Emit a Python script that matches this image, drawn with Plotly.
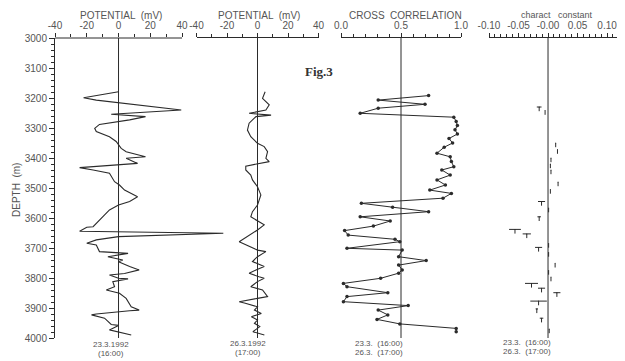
import plotly.graph_objects as go

# ---------------- data ----------------
pot1_depth = [3179, 3199, 3207, 3229, 3240, 3254, 3262, 3273, 3288, 3301, 3312, 3329, 3345, 3368,
              3379, 3396, 3401, 3418, 3432, 3440, 3451, 3479, 3490, 3507, 3529, 3545, 3557, 3573,
              3607, 3629, 3631, 3644, 3651, 3662, 3673, 3684, 3690, 3712, 3718, 3729, 3740, 3746,
              3762, 3773, 3785, 3790, 3801, 3803, 3812, 3829, 3840, 3851, 3868, 3896, 3907, 3909,
              3920, 3923, 3934, 3955, 3958, 3973, 3990]
pot1_mv = [0, -22, -14, 19.5, 39.5, -4.6, 17, 7, -12, -15, -14, -5.7, -1.5, 1.7,
           4.8, 17, 4.8, 12, -24.5, -16, -5.7, -2.5, 0.6, 3.8, 12, 7, 0, -5.7,
           -12, -16, -20, -24.5, 66, 0, -14, -20, -14, -12, 6, -6.7, 2.7, 0,
           7, 13, 3.8, -5.7, 0, 6, -3.6, -2.5, -7.7, 0.6, 4.8, 8, 13, 7,
           -14, -17, -8.8, -4.6, 0, -5.7, 8]

pot2_depth = [3179, 3201, 3223, 3240, 3251, 3257, 3262, 3284, 3307, 3329, 3351, 3362, 3379, 3401,
              3412, 3427, 3440, 3457, 3473, 3496, 3523, 3557, 3579, 3596, 3623, 3640, 3679, 3707,
              3712, 3729, 3745, 3762, 3773, 3784, 3796, 3801, 3812, 3829, 3840, 3862, 3868, 3879,
              3884, 3896, 3907, 3918, 3929, 3940, 3951, 3962, 3979, 3990]
pot2_mv = [5, 3.3, 7.7, 5.5, -5.5, 8.9, -1, -5.5, -6.6, -4.4, 0, 4.4, 6.6, 5.5,
           7.7, -7.7, -7.7, -4.4, -3.3, 0, 2.2, 0, -3.3, -4.4, 4.4, 0, -12, 0,
           5.5, 0, -3.3, 4.4, -1, -5.5, 1, 4.4, 0, -4.4, 3.3, 6.6, 0, -12,
           -8, 0, -2, 2.5, -4, 0, -2, 1.5, -3, 4.5]

cc_depth = [3192, 3207, 3221, 3234, 3251, 3264, 3278, 3292, 3306, 3320, 3335, 3350, 3364, 3384,
            3396, 3412, 3429, 3440, 3457, 3473, 3490, 3507, 3518, 3534, 3551, 3564, 3579, 3596,
            3610, 3627, 3642, 3657, 3671, 3679, 3701, 3707, 3729, 3742, 3757, 3773, 3784, 3801,
            3818, 3829, 3849, 3862, 3879, 3892, 3907, 3923, 3938, 3953, 3968, 3979]
cc_value = [0.73, 0.31, 0.70, 0.31, 0.16, 0.94, 0.96, 0.97, 0.95, 0.97, 0.90, 0.93, 0.86, 0.80,
            0.91, 0.92, 0.94, 0.84, 0.91, 0.80, 0.87, 0.74, 0.92, 0.85, 0.17, 0.43, 0.73, 0.16,
            0.41, 0.27, 0.03, 0.06, 0.45, 0.49, 0.05, 0.51, 0.48, 0.71, 0.48, 0.51, 0.48, 0.33,
            0.02, 0.05, 0.39, 0.05, 0.02, 0.56, 0.31, 0.39, 0.30, 0.49, 0.96, 0.96]

char_depth = [3230, 3242, 3350, 3372, 3400, 3420, 3440, 3480, 3505, 3545, 3567, 3596, 3638, 3653,
              3685, 3698, 3715, 3751, 3775, 3797, 3818, 3834, 3849, 3877, 3903, 3934, 3970]
char_value = [-0.015, -0.005, 0.013, 0.016, 0.005, 0.004, 0.005, 0.017, 0.004, -0.011, 0.001, -0.015,
              -0.056, -0.036, 0.001, -0.016, 0.001, 0.012, 0.001, 0.005, -0.028, -0.011, 0.015,
              -0.016, -0.019, -0.011, 0.002]
char_spread = [0.004, 0, 0, 0, 0, 0, 0, 0, 0, 0.006, 0, 0.003,
               0.010, 0.007, 0, 0.006, 0, 0, 0, 0, 0.011, 0.006, 0.006,
               0.014, 0.002, 0.003, 0]

ref_lines = [0, 0, 0.5, 0]
depth_range = [3000, 4000]

# ---------------- style ----------------
LC = "#2b2b2b"
TC = "#555555"
FONT = "Liberation Sans"
OFF = 8                      # page body margin of the html page
W, H = 625 - OFF, 361 - OFF
TOP, BOT = 38, 338           # page pixel rows of depth 3000 / 4000
STEM = 14                    # length (m) of the hanging stem of each T mark

fig = go.Figure()
fig.add_trace(go.Scatter(x=pot1_mv, y=pot1_depth, xaxis="x", yaxis="y", mode="lines",
                         line=dict(color=LC, width=1.1)))
fig.add_trace(go.Scatter(x=pot2_mv, y=pot2_depth, xaxis="x2", yaxis="y", mode="lines",
                         line=dict(color=LC, width=1.1)))
fig.add_trace(go.Scatter(x=cc_value, y=cc_depth, xaxis="x3", yaxis="y", mode="lines+markers",
                         line=dict(color=LC, width=1.0),
                         marker=dict(color=LC, size=3.5)))
fig.add_trace(go.Scatter(x=char_value, y=char_depth, xaxis="x4", yaxis="y", mode="markers",
                         marker=dict(size=1, color=LC),
                         error_x=dict(type="data", array=char_spread, symmetric=True,
                                      thickness=1, width=0, color=LC),
                         error_y=dict(type="data", symmetric=False,
                                      array=[STEM] * len(char_depth),
                                      arrayminus=[0] * len(char_depth),
                                      thickness=1, width=0, color=LC)))

def px(p):
    return (p - OFF) / W

def ypx(p):
    return (BOT - p) / (BOT - TOP)

common_x = dict(anchor="y", side="top", showgrid=False, zeroline=False, ticks="outside",
                ticklen=4, tickwidth=1, tickcolor=LC, linecolor=LC, linewidth=1,
                automargin=False,
                tickfont=dict(family=FONT, size=10, color=TC))

fig.update_layout(
    width=W, height=H,
    margin=dict(l=0, r=0, t=TOP - OFF, b=361 - BOT, pad=0),
    paper_bgcolor="white", plot_bgcolor="rgba(0,0,0,0)",
    showlegend=False,
    yaxis=dict(range=[depth_range[1], depth_range[0]], domain=[0, 1], anchor="x",
               tickmode="linear", tick0=3000, dtick=100, ticks="outside", ticklen=5,
               tickcolor=LC, showline=True, linecolor=LC, linewidth=1,
               showgrid=False, zeroline=False, automargin=False,
               tickfont=dict(family=FONT, size=10, color=TC),
               minor=dict(dtick=20, ticklen=3, ticks="outside", tickcolor=LC)),
    xaxis=dict(domain=[px(55), px(226.5)], range=[-40, 68], showline=False,
               tickvals=[-40, -20, 0, 20, 40], ticktext=["-40", "-20", "0", "20", "40"],
               minor=dict(tickvals=[-30, -10, 10, 30], ticklen=3, ticks="outside", tickcolor=LC),
               **common_x),
    xaxis2=dict(domain=[px(196.5), px(318.5)], range=[-40, 40], showline=True,
                tickvals=[-40, -20, 0, 20, 40], ticktext=["-40", "-20", "0", "20", "40"],
                minor=dict(tickvals=[-30, -10, 10, 30], ticklen=3, ticks="outside", tickcolor=LC),
                **common_x),
    xaxis3=dict(domain=[px(341), px(461)], range=[0, 1], showline=True,
                tickvals=[0, 0.5, 1.0], ticktext=["0.0", "0.5", "1.0"],
                minor=dict(dtick=0.1, ticklen=3, ticks="outside", tickcolor=LC),
                **common_x),
    xaxis4=dict(domain=[px(489), px(623)], range=[-0.10, 0.127], showline=True,
                tickvals=[-0.10, -0.05, 0.0, 0.05, 0.10],
                ticktext=["-0.10", "-0.05", "-0.00", "0.05", "0.10"],
                minor=dict(dtick=0.01, tick0=0, ticklen=3, ticks="outside", tickcolor=LC),
                **common_x),
)

shapes = [dict(type="line", xref="x", yref="paper", x0=-40, x1=40, y0=1, y1=1,
               line=dict(color=LC, width=1))]
for i, r in enumerate(ref_lines):
    xr = "x" if i == 0 else f"x{i+1}"
    shapes.append(dict(type="line", xref=xr, yref="y", x0=r, x1=r,
                       y0=depth_range[0], y1=depth_range[1], line=dict(color=LC, width=1)))
fig.update_layout(shapes=shapes)

ann = []
def add(text, x, y, size=10, **kw):
    d = dict(text=text, x=px(x), y=ypx(y), xref="paper", yref="paper", showarrow=False,
             xanchor="center", yanchor="middle",
             font=dict(family=kw.pop("family", FONT), size=size, color=kw.pop("color", TC)))
    d.update(kw)
    ann.append(d)

add("POTENTIAL  (mV)", 121, 15)
add("POTENTIAL  (mV)", 259, 15)
add("CROSS  CORRELATION", 405, 15)
add("charact   constant", 557, 15, size=9)
add("DEPTH  (m)", 17, 190, textangle=-90)
add("<b>Fig.3</b>", 319, 72, size=13, family="Liberation Serif", color="#333333")
add("23.3.1992", 111, 344.5, size=8)
add("(16:00)", 111, 353.5, size=8)
add("26.3.1992", 248, 343.5, size=8)
add("(17:00)", 248, 352.5, size=8)
add("23.3.  (16:00)", 379, 343, size=8)
add("26.3.  (17:00)", 379, 352, size=8)
add("23.3.  (16:00)", 527, 342.5, size=8)
add("26.3.  (17:00)", 527, 351.5, size=8)
fig.update_layout(annotations=ann)

fig.write_html("out.html")
